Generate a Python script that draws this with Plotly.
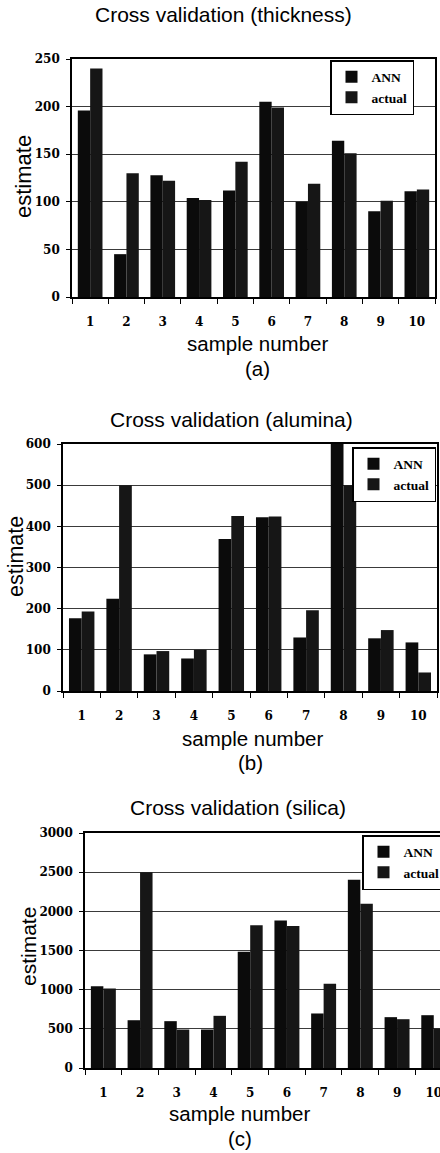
import plotly.graph_objects as go

W, H = 440, 1153

samples = ["1", "2", "3", "4", "5", "6", "7", "8", "9", "10"]

thick_ann = [196, 45, 128, 104, 112, 205, 100, 164, 90, 111]
thick_act = [240, 130, 122, 102, 142, 199, 119, 151, 101, 113]

alum_ann = [177, 224, 89, 79, 369, 422, 130, 600, 128, 118]
alum_act = [193, 500, 97, 100, 425, 424, 196, 500, 148, 45]

sil_ann = [1045, 610, 598, 491, 1485, 1882, 696, 2403, 649, 674]
sil_act = [1016, 2500, 491, 666, 1822, 1814, 1075, 2096, 623, 504]

titles = ["Cross validation (thickness)", "Cross validation (alumina)", "Cross validation (silica)"]
panel_tags = ["(a)", "(b)", "(c)"]
series_names = ["ANN", "actual"]

def px_x(v):
    return v / W

def px_y(v):
    return 1 - v / H

fig = go.Figure()

data = [(thick_ann, thick_act), (alum_ann, alum_act), (sil_ann, sil_act)]
colors = ["#0b0b0b", "#161616"]
for i, (a, b) in enumerate(data):
    sfx = "" if i == 0 else str(i + 1)
    for name, vals, col in zip(series_names, (a, b), colors):
        fig.add_trace(go.Bar(
            x=samples, y=vals, name=name,
            marker=dict(color=col, line=dict(width=0)),
            xaxis="x" + sfx, yaxis="y" + sfx,
            legend="legend" + sfx,
            showlegend=True,
        ))

# panel geometry in pixels: (left, right, top, bottom)
geo = [(72, 435, 59, 297), (63, 437, 444, 691), (85, 440, 833, 1068)]
yranges = [[0, 250], [0, 600], [0, 3000]]
dticks = [50, 100, 500]
xranges = [[-0.5, 9.5], [-0.5, 9.5], [-0.5, 9.17]]

tickfont = dict(family="DejaVu Serif", size=12, color="black", weight="bold")
layout = dict(
    width=W, height=H,
    margin=dict(l=0, r=0, t=0, b=0, autoexpand=False),
    paper_bgcolor="white", plot_bgcolor="white",
    barmode="group", bargap=0.32, bargroupgap=0.0,
    showlegend=True,
)
for i in range(3):
    sfx = "" if i == 0 else str(i + 1)
    l, r, t, b = geo[i]
    layout["xaxis" + sfx] = dict(
        domain=[px_x(l), px_x(r)], anchor="y" + sfx,
        type="category", range=xranges[i],
        tickson="boundaries", ticks="outside", ticklen=5, tickwidth=1.2, tickcolor="black",
        showline=True, linecolor="black", linewidth=1.6, mirror=True,
        showgrid=False, tickfont=tickfont, ticklabelstandoff=13,
    )
    layout["yaxis" + sfx] = dict(
        domain=[px_y(b), px_y(t)], anchor="x" + sfx,
        range=yranges[i], dtick=dticks[i],
        ticks="outside", ticklen=4, tickwidth=1.2, tickcolor="black",
        showline=True, linecolor="black", linewidth=1.6, mirror=(i != 2),
        showgrid=True, gridcolor="#3a3a3a", gridwidth=1,
        zeroline=False, tickfont=tickfont, ticklabelstandoff=4,
    )

legend_pos = [(330, 60), (352, 447), (362, 835)]
for i in range(3):
    key = "legend" if i == 0 else "legend" + str(i + 1)
    lx, ly = legend_pos[i]
    layout[key] = dict(
        x=px_x(lx), y=px_y(ly), xanchor="left", yanchor="top",
        bgcolor="white", bordercolor="black", borderwidth=1.5,
        font=dict(family="Liberation Serif", size=13.5, color="black", weight="bold"),
        tracegroupgap=0, traceorder="normal", itemwidth=30,
        entrywidth=58 if i < 2 else 48, entrywidthmode="pixels",
    )

fig.update_layout(**layout)

sans = "Liberation Sans, Arial, sans-serif"
# title, sample number, tag, estimate positions (pixels)
title_pos = [(224, 15), (231, 420), (238, 807)]
xlab_pos = [(257, 343), (253, 738), (240, 1113)]
tag_pos = [(257, 368), (250, 762), (240, 1138)]
ylab_pos = [(23, 177, 22), (16, 557, 21.5), (28, 946, 21)]

for i in range(3):
    tx, ty = title_pos[i]
    fig.add_annotation(x=px_x(tx), y=px_y(ty), xref="paper", yref="paper",
                       text=titles[i], showarrow=False, xanchor="center", yanchor="middle",
                       font=dict(family=sans, size=21, color="black"))
    sx, sy = xlab_pos[i]
    fig.add_annotation(x=px_x(sx), y=px_y(sy), xref="paper", yref="paper",
                       text="sample number", showarrow=False, xanchor="center", yanchor="middle",
                       font=dict(family=sans, size=20.5, color="black"))
    gx, gy = tag_pos[i]
    fig.add_annotation(x=px_x(gx), y=px_y(gy), xref="paper", yref="paper",
                       text=panel_tags[i], showarrow=False, xanchor="center", yanchor="middle",
                       font=dict(family=sans, size=20.5, color="black"))
    ex, ey, es = ylab_pos[i]
    fig.add_annotation(x=px_x(ex), y=px_y(ey), xref="paper", yref="paper",
                       text="estimate", showarrow=False, xanchor="center", yanchor="middle",
                       textangle=-90,
                       font=dict(family=sans, size=es, color="black"))

fig.write_html("out.html")
